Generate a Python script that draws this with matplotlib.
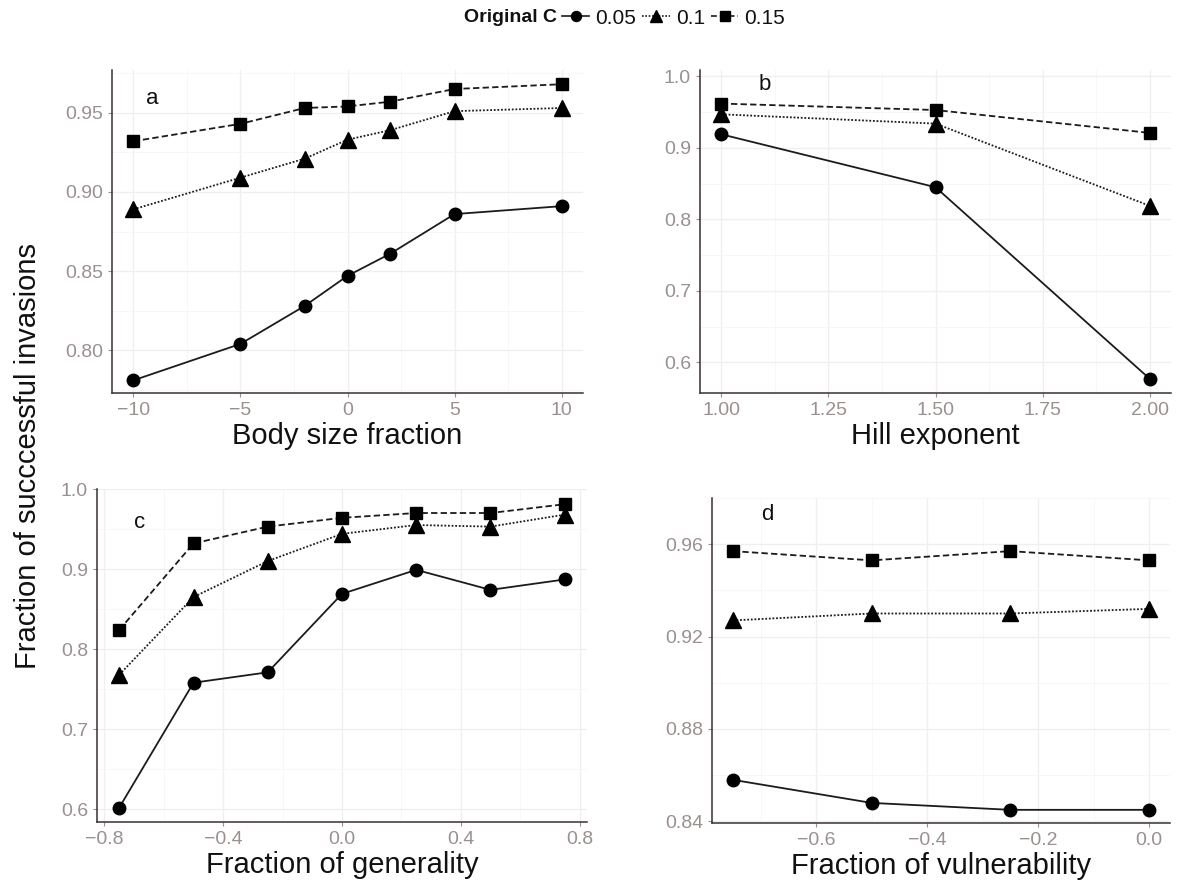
import matplotlib
matplotlib.use('Agg')
import matplotlib.pyplot as plt
from matplotlib.lines import Line2D
from matplotlib.ticker import FuncFormatter, AutoMinorLocator

plt.rcParams['font.family'] = ['Liberation Sans', 'DejaVu Sans']

# series labels (Original C)
c_labels = ['0.05', '0.1', '0.15']

# panel a: body size fraction
body_x = [-10, -5, -2, 0, 2, 5, 10]
body_005 = [0.781, 0.804, 0.828, 0.847, 0.861, 0.886, 0.891]
body_010 = [0.889, 0.909, 0.921, 0.933, 0.939, 0.951, 0.953]
body_015 = [0.932, 0.943, 0.953, 0.954, 0.957, 0.965, 0.968]

# panel b: hill exponent
hill_x = [1.0, 1.5, 2.0]
hill_005 = [0.919, 0.845, 0.577]
hill_010 = [0.947, 0.934, 0.819]
hill_015 = [0.962, 0.953, 0.921]

# panel c: fraction of generality
gen_x = [-0.75, -0.5, -0.25, 0.0, 0.25, 0.5, 0.75]
gen_005 = [0.602, 0.758, 0.771, 0.869, 0.899, 0.874, 0.887]
gen_010 = [0.768, 0.865, 0.910, 0.944, 0.955, 0.953, 0.968]
gen_015 = [0.824, 0.932, 0.953, 0.964, 0.970, 0.970, 0.981]

# panel d: fraction of vulnerability
vul_x = [-0.75, -0.5, -0.25, 0.0]
vul_005 = [0.858, 0.848, 0.845, 0.845]
vul_010 = [0.927, 0.930, 0.930, 0.932]
vul_015 = [0.957, 0.953, 0.957, 0.953]

W, H = 1194, 884
fig = plt.figure(figsize=(W / 100, H / 100), dpi=100)

line_col = '#1e1a1a'
tick_col = '#9a9090'
spine_col = '#3a3030'
# marker, linestyle, marker size
styles = [('o', '-', 9), ('^', (0, (1, 1)), 11), ('s', (0, (3.5, 1.8)), 9)]


def fmt(decimals):
    return FuncFormatter(lambda v, p: f'{v:.{decimals}f}'.replace('-', '\u2212'))


def px_axes(left, right, top, bottom):
    return fig.add_axes([left / W, 1 - bottom / H, (right - left) / W, (bottom - top) / H])


def style_panel(ax, x, series, xlim, ylim, xticks, yticks, ydec, xlabel, letter, lpos, xdec=None):
    for (m, ls, ms), y in zip(styles, series):
        ax.plot(x, y, color=line_col, linestyle=ls, lw=1.3, marker=m, markersize=ms,
                markerfacecolor='black', markeredgecolor='black', zorder=3)
    ax.set_xlim(*xlim)
    ax.set_ylim(*ylim)
    ax.set_xticks(xticks)
    ax.set_yticks(yticks)
    ax.yaxis.set_major_formatter(fmt(ydec))
    if xdec is not None:
        ax.xaxis.set_major_formatter(fmt(xdec))
    ax.xaxis.set_minor_locator(AutoMinorLocator(2))
    ax.yaxis.set_minor_locator(AutoMinorLocator(2))
    ax.grid(True, which='major', color='#f0eeee', lw=0.9)
    ax.grid(True, which='minor', color='#f7f6f6', lw=0.6)
    ax.set_axisbelow(True)
    for s in ['top', 'right']:
        ax.spines[s].set_visible(False)
    for s in ['left', 'bottom']:
        ax.spines[s].set_color(spine_col)
        ax.spines[s].set_linewidth(1.1)
    ax.tick_params(which='major', colors=tick_col, labelsize=14, length=3, width=0.8)
    ax.tick_params(which='minor', length=0)
    ax.set_xlabel(xlabel, fontsize=21, color='#111111', labelpad=2)
    ax.text(lpos[0], lpos[1], letter, transform=ax.transAxes, fontsize=16,
            color='#111111', ha='center', va='center')


ax_a = px_axes(112, 583, 70, 393)
style_panel(ax_a, body_x, [body_005, body_010, body_015], (-11, 11), (0.773, 0.977),
            [-10, -5, 0, 5, 10], [0.80, 0.85, 0.90, 0.95], 2,
            'Body size fraction', 'a', (0.085, 0.913), xdec=0)

ax_b = px_axes(700, 1171, 70, 393)
style_panel(ax_b, hill_x, [hill_005, hill_010, hill_015], (0.95, 2.05), (0.557, 1.009),
            [1.0, 1.25, 1.5, 1.75, 2.0], [0.6, 0.7, 0.8, 0.9, 1.0], 1,
            'Hill exponent', 'b', (0.138, 0.954), xdec=2)

ax_c = px_axes(97, 587, 489, 822)
style_panel(ax_c, gen_x, [gen_005, gen_010, gen_015], (-0.825, 0.825), (0.584, 1.0),
            [-0.8, -0.4, 0.0, 0.4, 0.8], [0.6, 0.7, 0.8, 0.9, 1.0], 1,
            'Fraction of generality', 'c', (0.088, 0.90), xdec=1)

ax_d = px_axes(712, 1170, 498, 823)
style_panel(ax_d, vul_x, [vul_005, vul_010, vul_015], (-0.7875, 0.0375), (0.8393, 0.980),
            [-0.6, -0.4, -0.2, 0.0], [0.84, 0.88, 0.92, 0.96], 2,
            'Fraction of vulnerability', 'd', (0.12, 0.948), xdec=1)

fig.text(28 / W, 1 - 456 / H, 'Fraction of succcessful invasions', rotation=90,
         fontsize=21, color='#111111', ha='center', va='center')

# legend at the top
fig.text(557 / W, 1 - 18 / H, 'Original C', fontsize=14, fontweight='bold',
         color='#111111', ha='right', va='center')
handles = [Line2D([], [], color=line_col, linestyle=ls, lw=1.2, marker=m, markersize=ms * 0.8,
                  markerfacecolor='black', markeredgecolor='black')
           for (m, ls, ms) in styles]
fig.legend(handles, c_labels, loc='center left', bbox_to_anchor=(562 / W, 1 - 18 / H),
           ncol=3, frameon=False, fontsize=15, handlelength=1.3, handletextpad=0.3,
           columnspacing=0.3, borderpad=0, borderaxespad=0, labelcolor='#111111')

fig.savefig('out.png', dpi=100, facecolor='white')
